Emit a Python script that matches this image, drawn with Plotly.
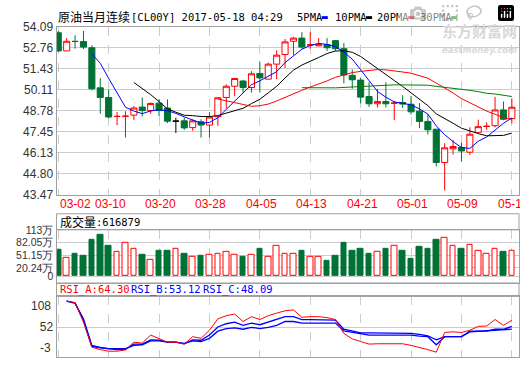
import plotly.graph_objects as go
import pandas as pd

W, H = 520, 365

# ---------------- data ----------------
dates = ["03-02", "03-03", "03-06", "03-07", "03-08", "03-09", "03-10", "03-13", "03-14", "03-15",
         "03-16", "03-17", "03-20", "03-21", "03-22", "03-23", "03-24", "03-27", "03-28", "03-29",
         "03-30", "03-31", "04-03", "04-04", "04-05", "04-06", "04-07", "04-10", "04-11", "04-12",
         "04-13", "04-14", "04-17", "04-18", "04-19", "04-20", "04-21", "04-24", "04-25", "04-26",
         "04-27", "04-28", "05-01", "05-02", "05-03", "05-04", "05-05", "05-08", "05-09", "05-10",
         "05-11", "05-12", "05-15", "05-16", "05-17"]

open_ = [53.72, 52.57, 53.17, 53.16, 52.77, 50.23, 49.62, 48.42, 48.43, 48.50,
         49.01, 48.79, 49.26, 48.95, 48.12, 48.14, 47.71, 48.08, 47.87, 48.40,
         49.62, 50.33, 50.66, 50.25, 51.14, 50.78, 51.73, 52.34, 53.18, 53.38,
         52.95, 52.89, 52.97, 53.22, 52.71, 51.02, 50.72, 49.68, 49.22, 49.36,
         49.26, 49.30, 49.19, 48.75, 48.10, 47.61, 45.50, 46.37, 46.45, 46.15,
         47.41, 47.79, 47.83, 48.83, 48.28]
high = [53.83, 53.38, 53.56, 53.83, 52.93, 50.84, 50.11, 48.69, 48.75, 49.07,
        49.62, 49.30, 49.50, 49.50, 48.34, 48.34, 48.24, 48.24, 48.69, 49.64,
        50.45, 50.85, 50.74, 51.28, 51.90, 51.83, 52.61, 53.32, 53.46, 53.76,
        53.76, 53.38, 53.38, 53.26, 53.07, 51.39, 50.88, 50.58, 50.15, 50.58,
        49.40, 49.75, 49.72, 49.26, 48.54, 47.61, 46.72, 46.92, 46.76, 47.73,
        48.21, 48.04, 49.66, 49.36, 49.56]
low = [52.51, 52.57, 52.71, 52.69, 50.07, 48.59, 48.30, 47.87, 47.08, 48.18,
       48.42, 48.58, 48.42, 48.00, 47.37, 47.57, 47.51, 47.08, 47.08, 47.81,
       48.91, 49.70, 49.93, 49.93, 49.93, 50.78, 50.78, 51.49, 52.30, 52.71,
       52.71, 52.89, 52.57, 52.57, 50.51, 50.17, 49.24, 49.02, 48.99, 48.99,
       48.18, 48.95, 48.54, 47.67, 47.28, 45.25, 43.73, 46.00, 45.56, 45.97,
       47.41, 47.57, 47.73, 48.18, 47.98]
close = [52.57, 53.18, 53.17, 52.81, 50.17, 49.62, 48.38, 48.42, 48.43, 48.95,
         48.79, 49.24, 48.79, 48.12, 48.12, 47.69, 48.14, 47.87, 48.38, 49.60,
         50.33, 50.82, 50.25, 51.12, 50.86, 51.73, 52.30, 53.14, 53.38, 52.81,
         52.95, 52.97, 52.77, 52.71, 51.04, 50.74, 49.64, 49.22, 49.36, 49.22,
         49.26, 49.20, 48.71, 48.10, 47.57, 45.50, 46.43, 46.51, 46.23, 47.29,
         47.77, 47.79, 48.83, 48.24, 49.00]

# volume in 万 (10,000 contracts)
volume_wan = [65.5, 46.0, 53.8, 49.1, 88.9, 100.5, 74.9, 59.9, 81.2, 65.7,
              51.2, 39.6, 60.9, 62.8, 66.7, 54.1, 46.4, 49.3, 53.2, 55.1,
              59.9, 53.2, 46.4, 53.2, 65.7, 48.3, 74.4, 55.1, 55.1, 60.9,
              48.3, 48.3, 37.7, 49.3, 82.1, 62.8, 67.6, 54.1, 59.9, 65.7,
              74.4, 62.8, 42.5, 70.5, 67.6, 88.9, 94.7, 74.4, 67.6, 76.3,
              62.8, 55.1, 66.7, 59.0, 61.6879]
last_volume = 616879

rsi_a = [None, 99.4, 96.5, 61.0, 14.8, 10.6, 7.7, 7.7, 10.0, 24.2,
         22.5, 37.3, 31.3, 24.2, 24.2, 20.7, 34.3, 31.3, 46.1, 66.9,
         72.8, 75.7, 62.1, 71.0, 65.7, 72.8, 77.5, 81.7, 83.4, 69.8,
         71.0, 71.0, 69.2, 65.7, 40.2, 30.2, 25.4, 20.7, 21.3, 21.3,
         21.3, 21.3, 18.3, 14.8, 10.6, 5.9, 42.0, 43.2, 42.0, 46.1,
         53.2, 53.8, 65.7, 55.0, 64.30]
rsi_b = [None, 99.4, 96.5, 64.0, 16.5, 13.6, 12.4, 10.6, 11.2, 20.7,
         20.7, 28.4, 27.8, 24.2, 24.2, 21.3, 28.4, 27.8, 37.3, 52.1,
         58.0, 61.0, 55.0, 59.2, 56.2, 61.0, 65.7, 71.0, 71.0, 65.7,
         65.7, 65.7, 65.7, 64.5, 47.9, 45.0, 41.4, 41.4, 41.4, 41.4,
         41.4, 41.4, 40.2, 38.4, 36.0, 28.4, 34.3, 34.3, 34.3, 44.4,
         44.4, 44.4, 47.9, 47.9, 53.12]
rsi_c = [None, 99.4, 95.3, 67.0, 18.3, 14.8, 12.4, 12.4, 12.4, 18.3,
         19.5, 26.6, 26.6, 24.2, 24.2, 21.9, 26.6, 25.4, 31.3, 44.4,
         49.1, 50.3, 47.9, 51.5, 49.1, 51.5, 55.0, 62.1, 62.1, 59.2,
         59.2, 59.2, 59.2, 59.2, 45.0, 42.0, 40.2, 37.3, 37.3, 37.3,
         37.3, 37.3, 37.3, 35.5, 34.3, 19.5, 34.3, 34.3, 34.3, 43.2,
         44.4, 44.4, 46.1, 47.3, 48.09]

ma_periods = [5, 10, 20, 30]
price_ticks = [54.09, 52.76, 51.43, 50.11, 48.78, 47.45, 46.13, 44.80, 43.47]
vol_ticks = [0, 20.24, 51.15, 82.05, 113]
vol_tick_text = ["0", "20.24万", "51.15万", "82.05万", "113万"]
rsi_ticks = [-3, 52, 108]
title_cjk = "原油当月连续"
title_code = "[CL00Y] 2017-05-18 04:29"
vol_label = "成交量"
label_step = 6

# ---------------- styles ----------------
RED = "#ff0000"
GREEN = "#007236"
BLUE = "#0000ff"
BLACK = "#000000"
MA_COLORS = [BLUE, BLACK, RED, "#008000"]
GRID = "#cccccc"
BORDER = "#a0a0a0"
TICKFONT = dict(family="Liberation Sans, Arial, sans-serif", size=12, color="#333333")
MONO_SIZE = 10.5
CHAR_W = MONO_SIZE * 0.602
MONO = dict(family="DejaVu Sans Mono, Liberation Mono, monospace", size=MONO_SIZE, color="#000000")
CJK = dict(family="Noto Sans CJK SC, sans-serif", size=12, color="#000000")

n = len(close)
xs = list(range(n))


def px(x):
    return x / W


def py(y):
    return 1 - y / H


def direction(i):
    if close[i] > open_[i]:
        return "up"
    if close[i] < open_[i]:
        return "down"
    prev = close[i - 1] if i > 0 else open_[i]
    if close[i] > prev:
        return "up"
    if close[i] < prev:
        return "down"
    return "flat"


dirs = [direction(i) for i in xs]

fig = go.Figure()

# candles
for d, col, fill in [("up", RED, "#ffffff"), ("down", GREEN, GREEN), ("flat", BLACK, BLACK)]:
    idx = [i for i in xs if dirs[i] == d]
    if not idx:
        continue
    style = dict(line=dict(color=col, width=1), fillcolor=fill)
    fig.add_trace(go.Candlestick(
        x=idx,
        open=[open_[i] for i in idx], high=[high[i] for i in idx],
        low=[low[i] for i in idx], close=[close[i] for i in idx],
        increasing=style, decreasing=style, whiskerwidth=0,
        xaxis="x", yaxis="y", showlegend=False))

# moving averages
cs = pd.Series(close)
for p, col in zip(ma_periods, MA_COLORS):
    ma = cs.rolling(p).mean()
    fig.add_trace(go.Scatter(
        x=xs, y=[None if pd.isna(v) else v for v in ma], mode="lines",
        line=dict(color=col, width=1), xaxis="x", yaxis="y",
        showlegend=False, hoverinfo="skip"))

# volume
vol_fill = [GREEN if d == "down" else "#ffffff" for d in dirs]
vol_line = [GREEN if d == "down" else RED for d in dirs]
fig.add_trace(go.Bar(
    x=xs, y=volume_wan, width=0.66,
    marker=dict(color=vol_fill, line=dict(color=vol_line, width=1)),
    xaxis="x2", yaxis="y2", showlegend=False))

# RSI
for vals, col, wd in [(rsi_c, BLUE, 1.3), (rsi_b, BLUE, 1.3), (rsi_a, RED, 1)]:
    fig.add_trace(go.Scatter(
        x=xs, y=vals, mode="lines", line=dict(color=col, width=wd),
        xaxis="x3", yaxis="y3", showlegend=False))

xdom = [px(56.5), px(519)]
xrange_ = [-0.21, 54.85]
grid_vals = list(range(0, n, label_step))


def xaxis_cfg(anchor):
    return dict(domain=xdom, range=xrange_, anchor=anchor, tickvals=grid_vals,
                showticklabels=False, ticks="", showgrid=True, gridcolor=GRID,
                griddash="dash", gridwidth=1, showline=True, mirror=True,
                linecolor=BORDER, linewidth=1, zeroline=False, fixedrange=True,
                rangeslider=dict(visible=False))


fig.update_layout(
    width=W, height=H, margin=dict(l=0, r=0, t=0, b=0),
    paper_bgcolor="#ffffff", plot_bgcolor="#ffffff", showlegend=False,
    boxgap=0.15, boxgroupgap=0.15, bargap=0,
    xaxis=xaxis_cfg("y"),
    xaxis2=xaxis_cfg("y2"),
    xaxis3=xaxis_cfg("y3"),
    yaxis=dict(domain=[py(195), py(20.7)], range=[43.47, 54.09], anchor="x",
               tickvals=price_ticks, ticktext=[f"{v:.2f}" for v in price_ticks],
               tickfont=TICKFONT, ticks="", showgrid=True, gridcolor=GRID,
               showline=True, mirror=True, linecolor=BORDER, zeroline=False,
               fixedrange=True),
    yaxis2=dict(domain=[py(287), py(231.7)], range=[-16.4, 113], anchor="x2",
                tickvals=vol_ticks, ticktext=vol_tick_text,
                tickfont=dict(TICKFONT, size=10.5), ticks="", showgrid=True, gridcolor=GRID,
                showline=True, mirror=True, linecolor=BORDER, zeroline=False,
                fixedrange=True),
    yaxis3=dict(domain=[py(364), py(301)], range=[rsi_ticks[0], rsi_ticks[-1]], anchor="x3",
                tickvals=[rsi_ticks[1]], ticktext=[str(rsi_ticks[1])],
                tickfont=TICKFONT, ticks="", showgrid=True, gridcolor=GRID,
                showline=True, mirror=True, linecolor=BORDER, zeroline=False,
                fixedrange=True),
)

shapes = []
annotations = []


def text_at(text, x, y, font, anchor="left", yanchor="middle"):
    annotations.append(dict(text=text, x=px(x), y=py(y), xref="paper", yref="paper",
                            xanchor=anchor, yanchor=yanchor, showarrow=False, font=font))


# header boxes
for y0, y1 in [(215, 231.7), (287, 301)]:
    shapes.append(dict(type="rect", xref="paper", yref="paper",
                       x0=px(56.5), x1=px(519), y0=py(y1), y1=py(y0),
                       line=dict(color=BORDER, width=1), fillcolor="rgba(0,0,0,0)"))

# title (CJK part + code/time part)
text_at(title_cjk, 56, 10, CJK)
text_at(title_code, 56 + 12 * len(title_cjk) + 1, 10.5, MONO)

# MA legend
leg_x = [295, 333, 375, 418]
for p, col, lx in zip(ma_periods, MA_COLORS, leg_x):
    label = f"{p}PMA"
    text_at(label, lx, 10.5, MONO)
    sx = lx + CHAR_W * len(label) + 1.5
    shapes.append(dict(type="rect", xref="paper", yref="paper",
                       x0=px(sx), x1=px(sx + 6), y0=py(12.5), y1=py(9.5),
                       line=dict(width=0), fillcolor=col))

# watermark
text_at("东方财富网", 519, 37.5,
        dict(family="Noto Sans CJK SC", size=15, color="#d9d9d9", weight="bold"),
        anchor="right", yanchor="bottom")
text_at("eastmoney.com", 519, 37.5,
        dict(family="DejaVu Sans", size=8.5, color="#d9d9d9", weight="bold", style="italic"),
        anchor="right", yanchor="top")

# date labels
for i in grid_vals:
    first = i == 0
    annotations.append(dict(text=dates[i], x=i, y=py(205), xref="x", yref="paper",
                            xanchor="left" if first else "center", yanchor="middle",
                            xshift=0 if first else 1.5,
                            showarrow=False, font=dict(TICKFONT, color=RED)))

# volume header
text_at(vol_label, 57.5, 223.5, CJK)
text_at(f":{last_volume}", 57.5 + 12 * len(vol_label), 224, MONO)

# RSI header
rsi_hdr = [("RSI_A", rsi_a[-1], RED, 57.5), ("RSI_B", rsi_b[-1], BLUE, 129),
           ("RSI_C", rsi_c[-1], BLUE, 201)]
for name, v, col, lx in rsi_hdr:
    text_at(f"{name}:{v:.2f}", lx, 294, dict(MONO, color=col))

# RSI extreme labels (kept inside the panel as in the original)
text_at(str(rsi_ticks[-1]), 53, 302, TICKFONT, anchor="right", yanchor="top")
text_at(str(rsi_ticks[0]), 53, 364, TICKFONT, anchor="right", yanchor="bottom")

fig.update_layout(shapes=shapes, annotations=annotations)
fig.write_html("out.html",
               post_script="document.body.style.margin='0';document.body.style.overflow='hidden';")
